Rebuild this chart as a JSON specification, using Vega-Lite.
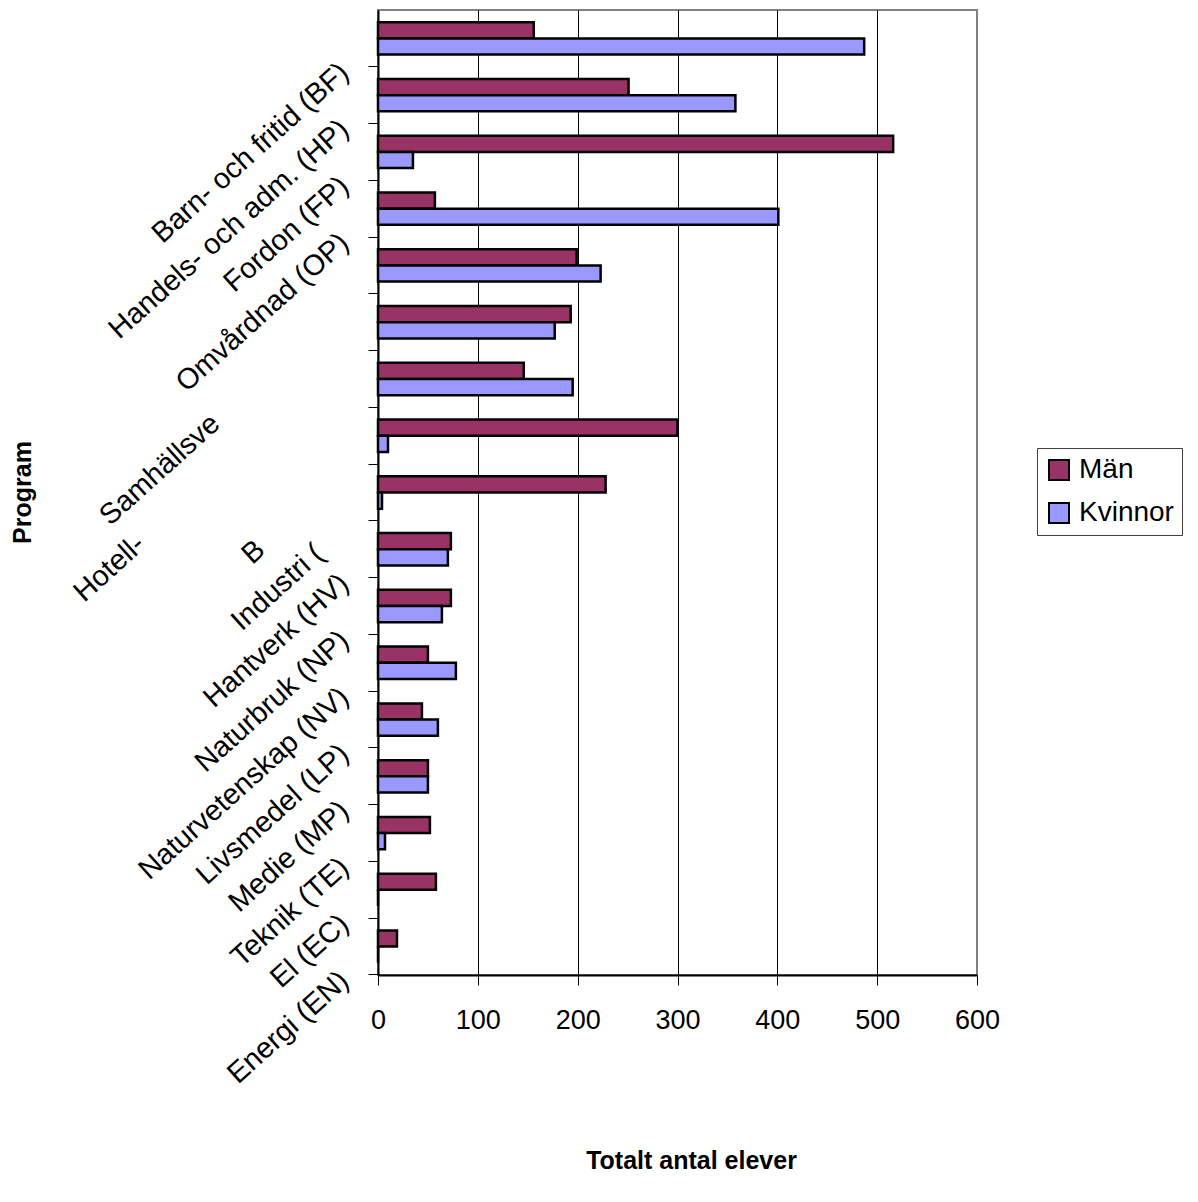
{
  "$schema": "https://vega.github.io/schema/vega-lite/v6.json",
  "width": 599,
  "height": 965,
  "autosize": {"type": "none"},
  "padding": {"left": 378, "top": 10, "right": 221, "bottom": 227},
  "background": "white",
  "config": {
    "font": "Liberation Sans",
    "view": {"stroke": "#808080", "strokeWidth": 2}
  },
  "data": {
    "values": [
      {"Program": "Barn- och fritid (BF)", "Kön": "Män", "Antal": 156},
      {"Program": "Barn- och fritid (BF)", "Kön": "Kvinnor", "Antal": 487},
      {"Program": "Handels- och adm. (HP)", "Kön": "Män", "Antal": 251},
      {"Program": "Handels- och adm. (HP)", "Kön": "Kvinnor", "Antal": 358},
      {"Program": "Fordon (FP)", "Kön": "Män", "Antal": 516},
      {"Program": "Fordon (FP)", "Kön": "Kvinnor", "Antal": 35},
      {"Program": "Omvårdnad (OP)", "Kön": "Män", "Antal": 57},
      {"Program": "Omvårdnad (OP)", "Kön": "Kvinnor", "Antal": 401},
      {"Program": "Samhällsvetenskap (SP)", "Kön": "Män", "Antal": 199},
      {"Program": "Samhällsvetenskap (SP)", "Kön": "Kvinnor", "Antal": 223},
      {"Program": "Hotell- och restaurang (HR)", "Kön": "Män", "Antal": 193},
      {"Program": "Hotell- och restaurang (HR)", "Kön": "Kvinnor", "Antal": 177},
      {"Program": "Estetiska (ES)", "Kön": "Män", "Antal": 146},
      {"Program": "Estetiska (ES)", "Kön": "Kvinnor", "Antal": 195},
      {"Program": "Bygg (BP)", "Kön": "Män", "Antal": 300},
      {"Program": "Bygg (BP)", "Kön": "Kvinnor", "Antal": 10},
      {"Program": "Industri (IP)", "Kön": "Män", "Antal": 228},
      {"Program": "Industri (IP)", "Kön": "Kvinnor", "Antal": 4},
      {"Program": "Hantverk (HV)", "Kön": "Män", "Antal": 73},
      {"Program": "Hantverk (HV)", "Kön": "Kvinnor", "Antal": 70},
      {"Program": "Naturbruk (NP)", "Kön": "Män", "Antal": 73},
      {"Program": "Naturbruk (NP)", "Kön": "Kvinnor", "Antal": 64},
      {"Program": "Naturvetenskap (NV)", "Kön": "Män", "Antal": 50},
      {"Program": "Naturvetenskap (NV)", "Kön": "Kvinnor", "Antal": 78},
      {"Program": "Livsmedel (LP)", "Kön": "Män", "Antal": 44},
      {"Program": "Livsmedel (LP)", "Kön": "Kvinnor", "Antal": 60},
      {"Program": "Medie (MP)", "Kön": "Män", "Antal": 50},
      {"Program": "Medie (MP)", "Kön": "Kvinnor", "Antal": 50},
      {"Program": "Teknik (TE)", "Kön": "Män", "Antal": 52},
      {"Program": "Teknik (TE)", "Kön": "Kvinnor", "Antal": 7},
      {"Program": "El (EC)", "Kön": "Män", "Antal": 58},
      {"Program": "El (EC)", "Kön": "Kvinnor", "Antal": 0},
      {"Program": "Energi (EN)", "Kön": "Män", "Antal": 19},
      {"Program": "Energi (EN)", "Kön": "Kvinnor", "Antal": 0}
    ]
  },
  "mark": {"type": "bar", "stroke": "black", "strokeWidth": 2.5},
  "encoding": {
    "y": {
      "field": "Program",
      "type": "nominal",
      "sort": null,
      "scale": {"paddingInner": 0.43, "paddingOuter": 0.215},
      "axis": {
        "title": "Program",
        "titleFontSize": 25,
        "titleFontWeight": "bold",
        "titleColor": "black",
        "titleAngle": -90,
        "titleX": -356,
        "titleY": 482,
        "titleAlign": "center",
        "titleBaseline": "middle",
        "bandPosition": 1.377,
        "tickSize": 10,
        "tickColor": "black",
        "domainColor": "black",
        "domainWidth": 2,
        "labelAngle": -42,
        "labelAlign": "right",
        "labelBaseline": "middle",
        "labelFontSize": 29,
        "labelColor": "black",
        "labelPadding": {
          "condition": [
            {"test": "datum.value == 'Samhällsvetenskap (SP)'", "value": 153},
            {"test": "datum.value == 'Hotell- och restaurang (HR)'", "value": 228},
            {"test": "datum.value == 'Bygg (BP)'", "value": 108},
            {"test": "datum.value == 'Industri (IP)'", "value": 49}
          ],
          "value": 24
        },
        "labelOffset": {
          "condition": [
            {"test": "datum.value == 'Samhällsvetenskap (SP)'", "value": 154},
            {"test": "datum.value == 'Hotell- och restaurang (HR)'", "value": 218},
            {"test": "datum.value == 'Bygg (BP)'", "value": 110},
            {"test": "datum.value == 'Industri (IP)'", "value": 57}
          ],
          "value": 30
        },
        "labelLimit": 1000,
        "labelOverlap": false,
        "labelExpr": "datum.value == 'Samhällsvetenskap (SP)' ? 'Samhällsve' : datum.value == 'Hotell- och restaurang (HR)' ? 'Hotell-' : datum.value == 'Estetiska (ES)' ? '' : datum.value == 'Bygg (BP)' ? 'B' : datum.value == 'Industri (IP)' ? 'Industri (' : datum.value"
      }
    },
    "yOffset": {"field": "Kön", "sort": ["Män", "Kvinnor"], "scale": {"paddingInner": 0}},
    "x": {
      "field": "Antal",
      "type": "quantitative",
      "scale": {"domain": [0, 600], "nice": false},
      "axis": {
        "title": "Totalt antal elever",
        "values": [0, 100, 200, 300, 400, 500, 600],
        "grid": true,
        "gridColor": {"condition": {"test": "datum.value == 600", "value": "#808080"}, "value": "black"},
        "gridWidth": 1,
        "tickSize": 10,
        "tickColor": "black",
        "domainColor": "black",
        "domainWidth": 2,
        "labelFontSize": 27,
        "labelColor": "black",
        "labelPadding": 22,
        "labelFlush": false,
        "titleFontSize": 25,
        "titleFontWeight": "bold",
        "titleColor": "black",
        "titleX": 313,
        "titleY": 193,
        "titleAlign": "center",
        "titleBaseline": "alphabetic"
      }
    },
    "color": {
      "field": "Kön",
      "type": "nominal",
      "sort": ["Män", "Kvinnor"],
      "scale": {"domain": ["Män", "Kvinnor"], "range": ["#993366", "#9999FF"]},
      "legend": {
        "orient": "none",
        "legendX": 659,
        "legendY": 438,
        "title": null,
        "strokeColor": "#404040",
        "fillColor": "white",
        "padding": 8,
        "symbolType": "square",
        "symbolSize": 400,
        "symbolStrokeColor": "black",
        "symbolStrokeWidth": 2,
        "symbolOpacity": 1,
        "labelFontSize": 28,
        "labelColor": "black",
        "labelOffset": 6,
        "rowPadding": 15
      }
    }
  }
}
